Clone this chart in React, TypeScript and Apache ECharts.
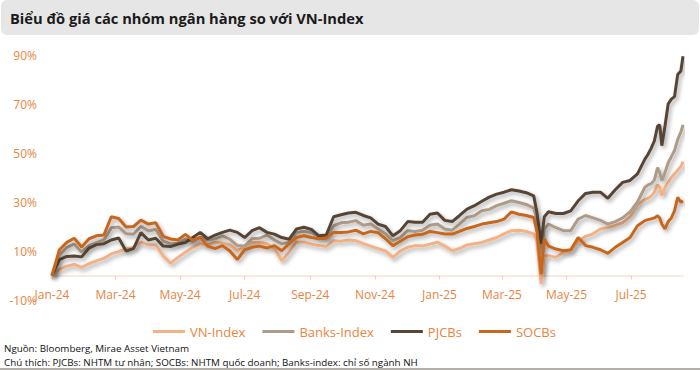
import React, { useEffect, useRef } from 'react';
import * as echarts from 'echarts';

// days since 2024-01-01
const dayIndex = [
  0, 7, 14, 21, 28, 35, 42, 49, 56, 63,
  70, 77, 84, 91, 98, 105, 112, 119, 126, 133,
  140, 147, 154, 161, 168, 175, 182, 189, 196, 203,
  210, 217, 224, 231, 238, 245, 252, 259, 266, 273,
  280, 287, 294, 301, 308, 315, 322, 329, 336, 343,
  350, 357, 364, 371, 378, 385, 392, 399, 406, 413,
  420, 427, 434, 441, 448, 455,
  458, 462, 465,
  469, 476, 483, 490, 497, 504, 511, 518, 525, 532, 539, 546, 553, 560,
  563, 566, 569, 572, 574, 576, 579, 582, 585, 588, 591, 594, 596,
];

const vnIndex = [
  0, 2.5, 3.8, 4.5, 3.3, 4.8, 6.0, 7.0, 8.8, 9.8,
  10.8, 11.5, 13.6, 12.5, 12.5, 8.0, 5.0, 7.4, 9.5, 11.5,
  12.9, 12.5, 13.6, 13.2, 12.5, 10.1, 12.0, 13.6, 13.5, 13.0,
  11.0, 6.0, 9.5, 13.6, 13.6, 12.8, 12.2, 11.8, 14.2, 14.0,
  14.5, 14.2, 13.0, 12.0, 11.0, 10.0, 7.4, 10.0, 11.5, 12.2,
  12.0, 12.8, 13.6, 12.0, 10.1, 11.0, 12.5, 13.0, 13.5, 14.5,
  15.5, 17.0, 18.3, 18.5, 18.0, 17.0,
  14.0, -3.5, 8.0,
  8.1, 7.4, 9.5, 10.0, 14.0, 16.0, 17.0, 19.0, 19.5, 20.5, 21.5, 24.0, 29.0, 31.0,
  31.5, 32.5, 34, 37, 36, 32.6, 36, 38, 40, 41.5, 43, 44.5, 46.5,
];

const banksIndex = [
  0, 8.5, 11.5, 12.8, 9.5, 12.2, 13.4, 14.5, 19.5, 19.8,
  17.0, 16.8, 20.0, 18.2, 18.8, 14.0, 12.9, 13.2, 14.9, 14.0,
  15.6, 14.5, 15.0, 16.2, 14.8, 12.2, 12.0, 15.0, 15.2, 16.5,
  14.5, 12.9, 13.5, 17.6, 18.0, 17.5, 16.0, 15.2, 20.3, 21.5,
  21.7, 22.4, 20.5, 21.0, 19.0, 17.0, 14.2, 15.5, 18.3, 18.0,
  18.5, 20.5, 21.0, 19.0, 18.5, 21.0, 23.7, 24.4, 26.4, 27.0,
  28.5, 29.5, 30.5, 29.8, 29.0, 27.5,
  23.1, 9.0, 19.0,
  21.0, 19.5, 18.3, 18.3, 23.0, 24.5, 23.5, 22.5, 21.0, 22.0, 23.5, 26.0, 30.0, 36.0,
  37, 37.5, 39, 44, 42, 38.7, 42, 46, 48.5, 51, 55.5, 58.5, 61.5,
];

const pjcbs = [
  0, 6.5, 7.8, 8.0, 7.6, 11.2, 12.6, 13.0, 14.5, 15.3,
  10.0, 11.0, 17.5, 14.5, 15.2, 12.0, 11.8, 12.8, 13.5, 15.5,
  17.6, 15.0, 16.5, 17.6, 18.5, 17.6, 15.5, 18.3, 19.5, 17.6,
  16.9, 15.5, 14.8, 19.0, 19.7, 18.8, 16.2, 16.5, 24.0, 24.8,
  25.5, 25.8, 24.5, 23.5, 21.0, 20.0, 16.2, 18.3, 22.0, 21.7,
  21.7, 25.0, 25.5, 22.5, 22.0, 24.5, 27.1, 28.5, 30.3, 32.0,
  33.2, 34.0, 35.0, 34.5, 33.8, 32.5,
  25.8, 13.0, 24.0,
  26.0, 25.3, 25.3, 26.4, 30.5, 33.5, 34.0, 34.0, 31.5, 35.0, 38.0, 38.8, 41.5, 47.5,
  49.5, 52, 55, 61, 61.5, 53, 61, 70, 72, 73, 82, 83.5, 89.5,
];

const socbs = [
  0, 10.5, 13.5, 15.2, 11.6, 15.0, 16.2, 16.5, 24.0, 23.3,
  19.8, 20.0, 22.6, 21.0, 21.5, 16.0, 14.9, 14.5, 16.8, 14.3,
  15.6, 12.0, 11.0, 12.2, 10.0, 6.5, 10.5, 11.5, 12.0, 11.2,
  12.2, 10.1, 13.0, 15.5, 16.2, 15.5, 15.0, 15.2, 17.6, 17.6,
  17.8, 18.5, 17.0, 18.0, 17.5, 15.0, 12.2, 14.0, 15.8, 16.5,
  16.8, 18.0, 17.5, 16.9, 16.9, 18.0, 19.2, 20.0, 21.0, 21.5,
  22.0, 23.0, 26.0, 25.0, 24.5, 23.7,
  18.0, 0.5, 14.9,
  12.0, 10.8, 10.1, 10.5, 15.5, 12.2, 11.5, 10.5, 9.0, 11.5, 13.5, 15.5, 20.3, 22.4,
  22.8, 23.1, 23.5, 24.4, 23.5, 21.0, 19.0, 22.0, 23.5, 26.4, 31.9, 29.9, 30.5,
];

const seriesNames = ['VN-Index', 'Banks-Index', 'PJCBs', 'SOCBs'];
const seriesColors = ['#F4B183', '#AE9B88', '#574536', '#C8661F'];
const seriesValues = [vnIndex, banksIndex, pjcbs, socbs];

const tickDays = [0, 60, 121, 182, 244, 305, 366, 425, 486, 547];
const tickLabels = ['Jan-24', 'Mar-24', 'May-24', 'Jul-24', 'Sep-24', 'Nov-24', 'Jan-25', 'Mar-25', 'May-25', 'Jul-25'];
const yTicks = [-10, 10, 30, 50, 70, 90];

const titleText = 'Biểu đồ giá các nhóm ngân hàng so với VN-Index';
const sourceText = 'Nguồn: Bloomberg, Mirae Asset Vietnam';
const noteText = 'Chú thích: PJCBs: NHTM tư nhân; SOCBs: NHTM quốc doanh; Banks-index: chỉ số ngành NH';

const ORANGE = '#E9843E';
const FONT = '"Open Sans", "Noto Sans", sans-serif';

export default function App() {
  const ref = useRef<HTMLDivElement>(null);
  useEffect(() => {
    document.body.style.margin = '0';
    if (!ref.current) return;
    const chart = echarts.init(ref.current, null, { renderer: 'svg' });
    const option = {
      animation: false,
      textStyle: { fontFamily: FONT },
      grid: { left: 52, right: 17, top: 55, bottom: 70 },
      legend: {
        data: seriesNames,
        left: 148,
        top: 320,
        icon: 'rect',
        itemWidth: 32,
        itemHeight: 3,
        itemGap: 17,
        textStyle: { color: ORANGE, fontSize: 13, fontFamily: FONT },
      },
      xAxis: {
        type: 'value',
        min: 0,
        max: 596,
        position: 'bottom',
        offset: -24.5,
        axisLine: { show: true, onZero: false, lineStyle: { color: '#FBE2D0', width: 1.5 } },
        axisTick: { show: true, customValues: tickDays, length: 4, lineStyle: { color: '#F6CDB0' } },
        axisLabel: {
          customValues: tickDays,
          margin: 13,
          color: ORANGE,
          fontSize: 12,
          fontFamily: FONT,
          formatter: (v: number) => {
            const i = tickDays.indexOf(Math.round(v));
            return i >= 0 ? tickLabels[i] : '';
          },
        },
        splitLine: { show: false },
      },
      yAxis: {
        type: 'value',
        min: -10,
        max: 90,
        axisLine: { show: false, onZero: false },
        axisTick: { show: false },
        splitLine: { show: false },
        axisLabel: {
          customValues: yTicks,
          margin: 15,
          color: ORANGE,
          fontSize: 12,
          fontFamily: FONT,
          formatter: (v: number) => `${v}%`,
        },
      },
      series: seriesNames.map((name, si) => ({
        name,
        type: 'line',
        showSymbol: false,
        symbol: 'none',
        color: seriesColors[si],
        lineStyle: {
          width: 3,
          color: seriesColors[si],
          shadowColor: 'rgba(0,0,0,0.35)',
          shadowBlur: 4,
          shadowOffsetX: 2,
          shadowOffsetY: 2.5,
        },
        data: dayIndex.map((d, i) => [d, seriesValues[si][i]]),
      })),
      graphic: [
        {
          type: 'rect',
          shape: { x: 1, y: 0, width: 698, height: 35, r: 6 },
          style: { fill: '#E7E6E6' },
          z: -1,
        },
        {
          type: 'text',
          x: 10,
          y: 18,
          style: {
            text: titleText,
            fill: '#1A1A1A',
            font: `bold 14.7px ${FONT}`,
            textVerticalAlign: 'middle',
          },
        },
        {
          type: 'text',
          x: 4,
          y: 348,
          style: { text: sourceText, fill: '#111', font: `9.8px ${FONT}`, textVerticalAlign: 'middle' },
        },
        {
          type: 'text',
          x: 4,
          y: 362,
          style: { text: noteText, fill: '#111', font: `9.8px ${FONT}`, textVerticalAlign: 'middle' },
        },
        {
          type: 'line',
          shape: { x1: 0, y1: 369, x2: 700, y2: 369 },
          style: { stroke: '#9A948E', lineWidth: 1.5 },
        },
      ],
    };
    chart.setOption(option as any);
    return () => chart.dispose();
  }, []);
  return <div ref={ref} style={{ width: 700, height: 370 }} />;
}
